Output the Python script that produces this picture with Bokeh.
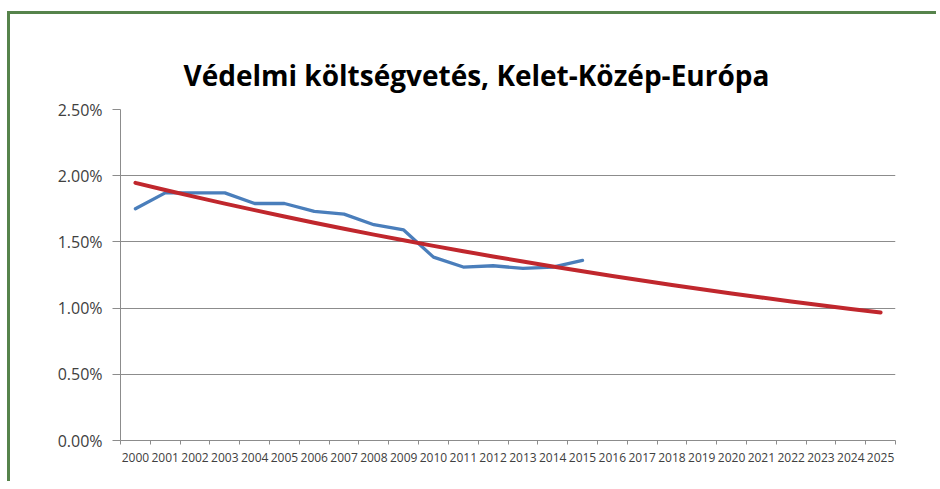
from bokeh.plotting import figure
from bokeh.models import Range1d, FixedTicker, PrintfTickFormatter
from bokeh.embed import file_html
from bokeh.resources import INLINE

# ---- data ----
title_text = "Védelmi költségvetés, Kelet-Közép-Európa"
years = [2000, 2001, 2002, 2003, 2004, 2005, 2006, 2007, 2008, 2009, 2010, 2011, 2012,
         2013, 2014, 2015, 2016, 2017, 2018, 2019, 2020, 2021, 2022, 2023, 2024, 2025]
actual_years = [2000, 2001, 2002, 2003, 2004, 2005, 2006, 2007, 2008, 2009, 2010, 2011,
                2012, 2013, 2014, 2015]
actual_pct = [1.75, 1.87, 1.87, 1.87, 1.79, 1.79, 1.73, 1.71, 1.63, 1.59, 1.385, 1.31,
              1.32, 1.30, 1.31, 1.36]
trend_pct = [1.946, 1.892, 1.840, 1.789, 1.740, 1.692, 1.645, 1.599, 1.555, 1.512, 1.470,
             1.430, 1.390, 1.352, 1.314, 1.278, 1.243, 1.208, 1.175, 1.142, 1.111, 1.080,
             1.050, 1.021, 0.993, 0.966]
y_ticks = [0.0, 0.5, 1.0, 1.5, 2.0, 2.5]

GREEN = "#56834b"
GRID = "#8c8c8c"

p = figure(width=929, height=470, output_backend="svg", toolbar_location=None,
           x_range=Range1d(years[0] - 0.5, years[-1] + 0.5),
           y_range=Range1d(y_ticks[0], y_ticks[-1]),
           min_border_left=110, min_border_right=44, min_border_top=95, min_border_bottom=44)
p.styles = {"border-top": f"3px solid {GREEN}", "border-left": f"3px solid {GREEN}",
            "margin-top": "11px", "margin-left": "7px"}
p.background_fill_color = "white"
p.border_fill_color = "white"
p.outline_line_color = None

p.title.text = title_text
p.title.text_font = "Open Sans"
p.title.text_font_size = "28px"
p.title.text_font_style = "bold"
p.title.text_color = "#000000"
p.title.align = "left"
p.title.offset = 63
p.title.vertical_align = "top"
p.title.standoff = 28

# x axis: labels at year centres, ticks at category boundaries
xa = p.xaxis[0]
xa.ticker = FixedTicker(ticks=years, minor_ticks=[y - 0.5 for y in years] + [years[-1] + 0.5])
xa.formatter = PrintfTickFormatter(format="%d")
xa.major_tick_line_color = None
xa.minor_tick_in = 0
xa.minor_tick_out = 4
xa.minor_tick_line_color = GRID
xa.axis_line_color = GRID
xa.major_label_standoff = 6
xa.major_label_text_font = "Open Sans"
xa.major_label_text_font_size = "12px"
xa.major_label_text_color = "#404040"

ya = p.yaxis[0]
ya.ticker = FixedTicker(ticks=y_ticks, minor_ticks=[])
ya.formatter = PrintfTickFormatter(format="%.2f%%")
ya.major_tick_in = 0
ya.major_tick_out = 8
ya.major_tick_line_color = GRID
ya.minor_tick_line_color = None
ya.axis_line_color = GRID
ya.major_label_standoff = 10
ya.major_label_text_font = "Open Sans"
ya.major_label_text_font_size = "16px"
ya.major_label_text_color = "#404040"

p.xgrid.grid_line_color = None
p.ygrid.ticker = FixedTicker(ticks=y_ticks)
p.ygrid.grid_line_color = GRID
p.ygrid.grid_line_width = 1

p.line(actual_years, actual_pct, line_color="#4a7ebb", line_width=3.3, line_join="round",
       line_cap="round")
p.line(years, trend_pct, line_color="#c0272d", line_width=4, line_join="round",
       line_cap="round")

open("out.html", "w").write(file_html(p, INLINE))
